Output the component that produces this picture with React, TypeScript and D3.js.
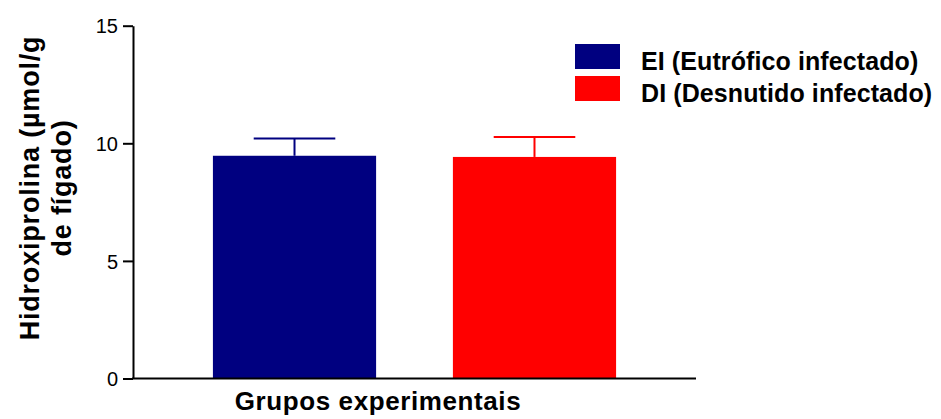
import React, { useRef, useEffect } from "react";
import * as d3 from "d3";

// Data
const groups = ["EI", "DI"];
const groupLabels = ["EI (Eutrófico infectado)", "DI (Desnutido infectado)"];
const means = [9.47, 9.42];
const errors = [0.73, 0.85];
const colors = ["#000080", "#FF0000"];
const yTicks = [0, 5, 10, 15];

export default function App() {
    const ref = useRef<SVGSVGElement>(null);

    // Chart attributes
    const chartAttr = {
        width: 941,
        height: 419,
        left: 133,
        right: 696,
        top: 25.7,
        bottom: 378.5
    };

    useEffect(() => {
        const font = "'Liberation Sans', Arial, Helvetica, sans-serif";

        const yScale = d3.scaleLinear()
            .domain([0, 15])
            .range([chartAttr.bottom, chartAttr.top]);

        const xBand = d3.scaleBand()
            .domain(groups)
            .range([chartAttr.left, chartAttr.right])
            .paddingInner(0.32)
            .paddingOuter(0.333);

        const svg = d3.select(ref.current)
            .attr("width", chartAttr.width)
            .attr("height", chartAttr.height);
        svg.selectAll("*").remove();

        const data = groups.map((g, i) => ({ g, mean: means[i], err: errors[i], color: colors[i] }));

        // Bars
        svg.append("g")
            .selectAll("rect")
            .data(data)
            .enter()
            .append("rect")
            .attr("x", d => xBand(d.g)!)
            .attr("y", d => yScale(d.mean))
            .attr("width", xBand.bandwidth())
            .attr("height", d => yScale(0) - yScale(d.mean))
            .attr("fill", d => d.color);

        // Error bars (upper only)
        const eb = svg.append("g")
            .selectAll("g")
            .data(data)
            .enter()
            .append("g")
            .attr("stroke", d => d.color)
            .attr("stroke-width", 2);
        eb.append("line")
            .attr("x1", d => xBand(d.g)! + xBand.bandwidth() / 2)
            .attr("x2", d => xBand(d.g)! + xBand.bandwidth() / 2)
            .attr("y1", d => yScale(d.mean))
            .attr("y2", d => yScale(d.mean + d.err));
        eb.append("line")
            .attr("x1", d => xBand(d.g)! + xBand.bandwidth() / 4)
            .attr("x2", d => xBand(d.g)! + xBand.bandwidth() * 3 / 4)
            .attr("y1", d => yScale(d.mean + d.err))
            .attr("y2", d => yScale(d.mean + d.err));

        // Y axis
        const yAxis = d3.axisLeft(yScale)
            .tickValues(yTicks)
            .tickSize(10)
            .tickPadding(5)
            .tickSizeOuter(0);
        const yg = svg.append("g")
            .attr("transform", `translate(${chartAttr.left},0)`)
            .call(yAxis);
        yg.select(".domain").attr("stroke", "#000").attr("stroke-width", 2);
        yg.selectAll(".tick line").attr("stroke", "#000").attr("stroke-width", 2);
        yg.selectAll(".tick text")
            .attr("font-family", font)
            .attr("font-size", 20)
            .attr("fill", "#000")
            .attr("dy", "0.36em");

        // X axis line
        svg.append("line")
            .attr("x1", chartAttr.left - 1)
            .attr("x2", chartAttr.right)
            .attr("y1", yScale(0))
            .attr("y2", yScale(0))
            .attr("stroke", "#000")
            .attr("stroke-width", 2);

        // X axis title
        svg.append("text")
            .attr("x", 378)
            .attr("y", 410)
            .attr("text-anchor", "middle")
            .attr("font-family", font)
            .attr("font-weight", "bold")
            .attr("font-size", 26)
            .attr("letter-spacing", 0.6)
            .text("Grupos experimentais");

        // Y axis title (two lines)
        const yTitle = svg.append("text")
            .attr("transform", "translate(0,188) rotate(-90)")
            .attr("text-anchor", "middle")
            .attr("font-family", font)
            .attr("font-weight", "bold")
            .attr("font-size", 27)
            .attr("letter-spacing", 0.8);
        yTitle.append("tspan").attr("x", 0).attr("y", 39).text("Hidroxiprolina (µmol/g");
        yTitle.append("tspan").attr("x", 0).attr("y", 71).text("de fígado)");

        // Legend
        const legend = svg.append("g")
            .selectAll("g")
            .data(data)
            .enter()
            .append("g")
            .attr("transform", (d, i) => `translate(575,${44 + i * 32})`);
        legend.append("rect")
            .attr("width", 45)
            .attr("height", 25)
            .attr("fill", d => d.color);
        legend.append("text")
            .attr("x", 66)
            .attr("y", 26)
            .attr("font-family", font)
            .attr("font-weight", "bold")
            .attr("font-size", 25)
            .attr("letter-spacing", 0.1)
            .text((d, i) => groupLabels[i]);
    }, []);

    return (
        <div>
            <svg ref={ref} style={{ position: "absolute", left: 0, top: 0 }} />
        </div>
    );
}
